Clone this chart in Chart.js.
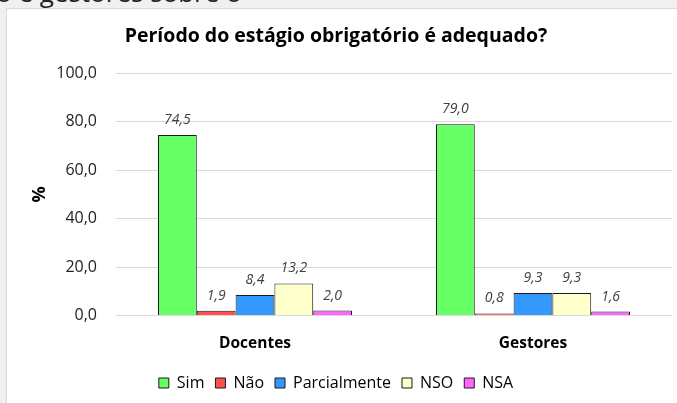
<!DOCTYPE html>
<html>
<head>
<meta charset="utf-8">
<script src="https://cdn.jsdelivr.net/npm/chart.js@4/dist/chart.umd.min.js"></script>
<style>
  body { margin: 0; background: #f0f0f0; width: 677px; height: 403px; overflow: hidden; position: relative; font-family: "Open Sans", sans-serif; }
  #top-text { position: absolute; left: -4px; top: -21px; font-size: 26px; line-height: 26px; color: #222; white-space: nowrap; }
  #box { position: absolute; left: 6px; top: 8px; width: 700px; height: 420px; background: #fff; border-top: 1px solid #d9d9d9; border-left: 1px solid #d9d9d9; }
  #chart { position: absolute; left: 0; top: 0; }
</style>
</head>
<body>
<div id="top-text">o e gestores sobre o</div>
<div id="box"></div>
<canvas id="chart" width="677" height="403"></canvas>
<script>
var categories = ['Docentes', 'Gestores'];
var seriesNames = ['Sim', 'Não', 'Parcialmente', 'NSO', 'NSA'];
var sim = [74.5, 79.0];
var nao = [1.9, 0.8];
var parcialmente = [8.4, 9.3];
var nso = [13.2, 9.3];
var nsa = [2.0, 1.6];
var yTicks = [0, 20, 40, 60, 80, 100];

var colors = ['#66ff66', '#ff5050', '#3399ff', '#ffffcc', '#ff66ff'];
var seriesValues = [sim, nao, parcialmente, nso, nsa];

function fmt(v) {
    return v.toFixed(1).replace('.', ',');
}

var datasets = [];
for (var i = 0; i < seriesNames.length; i++) {
    datasets.push({
        label: seriesNames[i],
        data: seriesValues[i],
        backgroundColor: colors[i],
        borderColor: '#1a1a1a',
        borderWidth: 1,
        barPercentage: 1,
        categoryPercentage: 0.698
    });
}

// value labels above the bars
var valueLabels = {
    id: 'valueLabels',
    afterDatasetsDraw: function(chart) {
        var ctx = chart.ctx;
        ctx.save();
        ctx.font = 'italic 14px "Open Sans"';
        ctx.fillStyle = '#404040';
        ctx.textAlign = 'center';
        ctx.textBaseline = 'middle';
        chart.data.datasets.forEach(function(ds, di) {
            var meta = chart.getDatasetMeta(di);
            meta.data.forEach(function(bar, j) {
                ctx.fillText(fmt(ds.data[j]), bar.x, bar.y - 15);
            });
        });
        ctx.restore();
    }
};

var ctx = document.getElementById('chart');
var chart = new Chart(ctx, {
    type: 'bar',
    data: {
        labels: categories,
        datasets: datasets
    },
    options: {
        responsive: false,
        animation: false,
        layout: {
            padding: { left: 0, right: 5, top: 0, bottom: 2 }
        },
        plugins: {
            title: {
                display: true,
                text: 'Período do estágio obrigatório é adequado?',
                color: '#000',
                font: { family: 'Open Sans', size: 19.5, weight: 'bold' },
                padding: { top: 25, bottom: 25 }
            },
            legend: {
                position: 'bottom',
                labels: {
                    boxWidth: 10,
                    boxHeight: 10,
                    color: '#000',
                    padding: 11,
                    font: { family: 'Open Sans', size: 16 },
                    generateLabels: function(chart) {
                        return chart.data.datasets.map(function(ds, i) {
                            return {
                                text: ds.label,
                                fillStyle: ds.backgroundColor,
                                strokeStyle: '#1a1a1a',
                                lineWidth: 1,
                                fontColor: '#000',
                                datasetIndex: i
                            };
                        });
                    }
                }
            },
            tooltip: { enabled: false }
        },
        scales: {
            x: {
                grid: { display: false },
                border: { display: false },
                ticks: {
                    color: '#000',
                    padding: 11,
                    font: { family: 'Open Sans', size: 15.5, weight: 'bold' }
                }
            },
            y: {
                min: 0,
                max: 100,
                afterBuildTicks: function(scale) {
                    scale.ticks = yTicks.map(function(v) { return { value: v }; });
                },
                afterFit: function(scale) {
                    scale.width = 116;
                },
                grid: { color: '#d9d9d9', drawTicks: false },
                border: { display: false },
                ticks: {
                    color: '#222',
                    padding: 19,
                    font: { family: 'Open Sans', size: 16 },
                    callback: function(v) { return fmt(v); }
                },
                title: {
                    display: true,
                    text: '%',
                    color: '#000',
                    font: { family: 'Open Sans', size: 18, weight: 'bold' },
                    padding: { top: 29, bottom: 0 }
                }
            }
        }
    },
    plugins: [valueLabels]
});
</script>
</body>
</html>
